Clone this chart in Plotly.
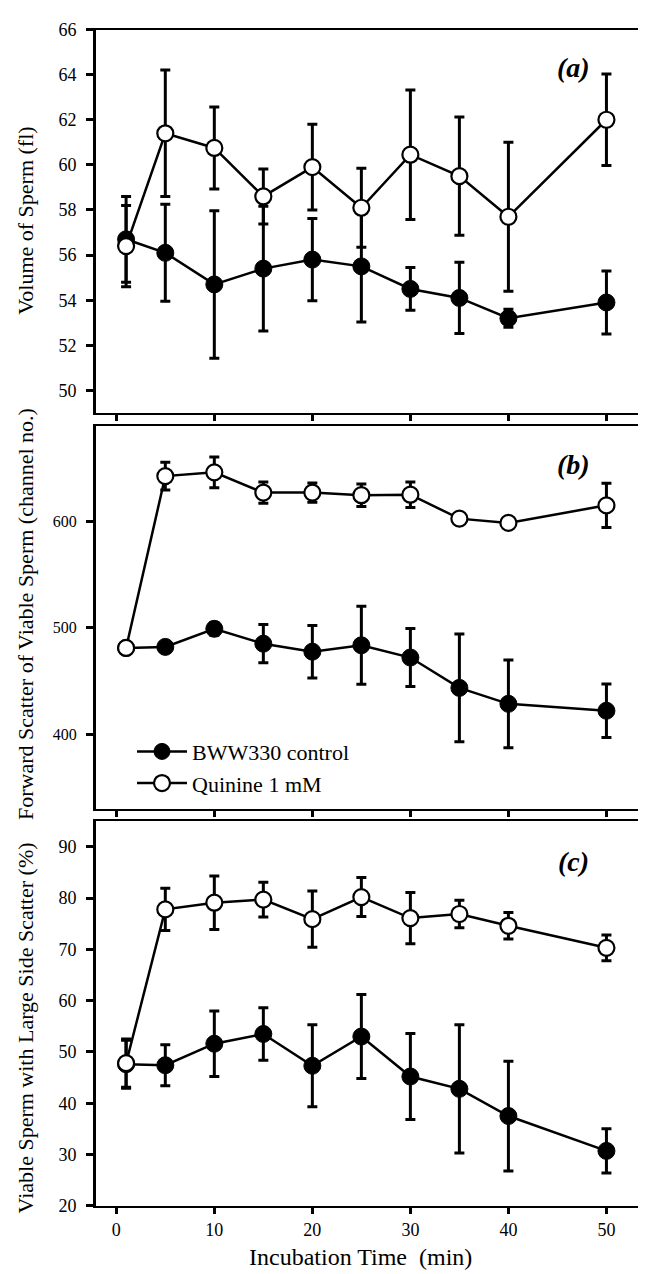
import plotly.graph_objects as go

# ---------------- data ----------------
time_min = [1, 5, 10, 15, 20, 25, 30, 35, 40, 50]

# (a) Volume of sperm (fl)
vol_ctrl = [56.7, 56.1, 54.7, 55.4, 55.8, 55.5, 54.5, 54.1, 53.2, 53.9]
vol_ctrl_err = [1.9, 2.15, 3.27, 2.77, 1.82, 2.47, 0.95, 1.58, 0.4, 1.4]
vol_quin = [56.4, 61.4, 60.75, 58.6, 59.9, 58.1, 60.45, 59.5, 57.7, 62.0]
vol_quin_err = [1.8, 2.8, 1.82, 1.22, 1.9, 1.75, 2.87, 2.62, 3.3, 2.03]

# (b) Forward scatter of viable sperm (channel no.)
fsc_ctrl = [481, 482, 499, 485, 477.5, 483.5, 472, 443.5, 428.5, 422]
fsc_ctrl_err = [3, 3, 6, 18, 24.7, 36.6, 27.2, 50.5, 41.2, 25.2]
fsc_quin = [481, 642.5, 646, 627, 627, 624.5, 625, 602.5, 598.5, 615]
fsc_quin_err = [3, 13, 14.5, 10, 9, 10.5, 12, 3, 2, 20.8]

# (c) Viable sperm with large side scatter (%)
ssc_ctrl = [47.6, 47.4, 51.6, 53.5, 47.3, 53.0, 45.2, 42.8, 37.5, 30.7]
ssc_ctrl_err = [4.7, 4.0, 6.4, 5.1, 8.0, 8.2, 8.4, 12.5, 10.7, 4.3]
ssc_quin = [47.8, 77.8, 79.1, 79.7, 75.9, 80.2, 76.1, 76.9, 74.6, 70.3]
ssc_quin_err = [4.7, 4.1, 5.2, 3.4, 5.5, 3.8, 5.0, 2.7, 2.6, 2.5]

series_names = ["BWW330 control", "Quinine 1 mM"]
panel_labels = ["(a)", "(b)", "(c)"]
y_titles = ["Volume of Sperm (fl)",
            "Forward Scatter of Viable Sperm (channel no.)",
            "Viable Sperm with Large Side Scatter (%)"]
x_title = "Incubation Time \u00a0(min)"
x_ticks = [0, 10, 20, 30, 40, 50]

# ---------------- figure ----------------
W, H = 646, 1274
FONT = "Liberation Serif, Times New Roman, serif"

fig = go.Figure()

panels = [
    (vol_ctrl, vol_ctrl_err, vol_quin, vol_quin_err),
    (fsc_ctrl, fsc_ctrl_err, fsc_quin, fsc_quin_err),
    (ssc_ctrl, ssc_ctrl_err, ssc_quin, ssc_quin_err),
]

for i, (c, ce, q, qe) in enumerate(panels):
    xa = "x" if i == 0 else f"x{i+1}"
    ya = "y" if i == 0 else f"y{i+1}"
    fig.add_trace(go.Scatter(
        x=time_min, y=c, xaxis=xa, yaxis=ya, mode="lines+markers",
        name=series_names[0], showlegend=(i == 1), legendrank=1,
        line=dict(color="black", width=2.5),
        marker=dict(symbol="circle", size=17, color="black",
                    line=dict(color="black", width=1)),
        error_y=dict(type="data", array=ce, visible=True, color="black",
                     thickness=3, width=5),
    ))
    fig.add_trace(go.Scatter(
        x=time_min, y=q, xaxis=xa, yaxis=ya, mode="lines+markers",
        name=series_names[1], showlegend=(i == 1), legendrank=2,
        line=dict(color="black", width=2.5),
        marker=dict(symbol="circle", size=16, color="white",
                    line=dict(color="black", width=2.2)),
        error_y=dict(type="data", array=qe, visible=True, color="black",
                     thickness=3, width=5),
    ))

x_domain = [88 / W, 640 / W]
x_range = [-2.07, 54.24]
y_domains = [
    [1 - 401.3 / H, 1 - 11.7 / H],
    [1 - 803.3 / H, 1 - 414.0 / H],
    [1 - 1206.7 / H, 1 - 816.0 / H],
]
y_ranges = [[49, 66], [330, 690], [20, 95]]
y_dticks = [2, 100, 10]
y_tick0 = [50, 400, 20]
y_tick_sizes = [18, 16, 18]

layout = dict(
    width=W, height=H, autosize=False,
    margin=dict(l=0, r=0, t=0, b=0),
    paper_bgcolor="white", plot_bgcolor="white",
    font=dict(family=FONT, color="black", size=18),
    showlegend=True,
    legend=dict(x=124 / W, y=1 - 724 / H, xanchor="left", yanchor="top",
                bgcolor="rgba(0,0,0,0)", borderwidth=0, itemwidth=50,
                font=dict(family=FONT, size=22, color="black"),
                tracegroupgap=0),
)

for i in range(3):
    xk = "xaxis" if i == 0 else f"xaxis{i+1}"
    yk = "yaxis" if i == 0 else f"yaxis{i+1}"
    ya = "y" if i == 0 else f"y{i+1}"
    xa = "x" if i == 0 else f"x{i+1}"
    layout[xk] = dict(
        domain=x_domain, range=x_range, anchor=ya,
        showline=True, linecolor="black", linewidth=2, mirror=True,
        showgrid=False, zeroline=False,
        ticks="outside", ticklen=6, tickwidth=3, tickcolor="black",
        tickmode="array", tickvals=x_ticks,
        ticktext=[str(v) for v in x_ticks],
        showticklabels=(i == 2), ticklabelstandoff=1,
        tickfont=dict(family=FONT, size=18, color="black"),
    )
    layout[yk] = dict(
        domain=y_domains[i], range=y_ranges[i], anchor=xa,
        showline=True, linecolor="black", linewidth=3, mirror=True,
        showgrid=False, zeroline=False,
        ticks="outside", ticklen=7, tickwidth=3, tickcolor="black",
        tick0=y_tick0[i], dtick=y_dticks[i], ticklabelstandoff=6,
        tickfont=dict(family=FONT, size=y_tick_sizes[i], color="black"),
    )

fig.update_layout(**layout)

# panel labels
label_y = [50.7, 453.7, 857.3]
for lab, yy in zip(panel_labels, label_y):
    fig.add_annotation(
        text=f"<b><i>{lab}</i></b>", xref="paper", yref="paper",
        x=565.8 / W, y=1 - yy / H, xanchor="center", yanchor="middle",
        showarrow=False, font=dict(family=FONT, size=28, color="black"),
    )

# y-axis titles
title_y = [206.5, 606.0, 1026.0]
for t, yy in zip(y_titles, title_y):
    fig.add_annotation(
        text=t, xref="paper", yref="paper", x=17.5 / W, y=1 - yy / H,
        xanchor="center", yanchor="middle", textangle=-90, showarrow=False,
        font=dict(family=FONT, size=22, color="black"),
    )

# x-axis title
fig.add_annotation(
    text=x_title, xref="paper", yref="paper", x=352 / W, y=1 - 1259 / H,
    xanchor="center", yanchor="middle", showarrow=False,
    font=dict(family=FONT, size=24, color="black"),
)

fig.write_html("out.html")
